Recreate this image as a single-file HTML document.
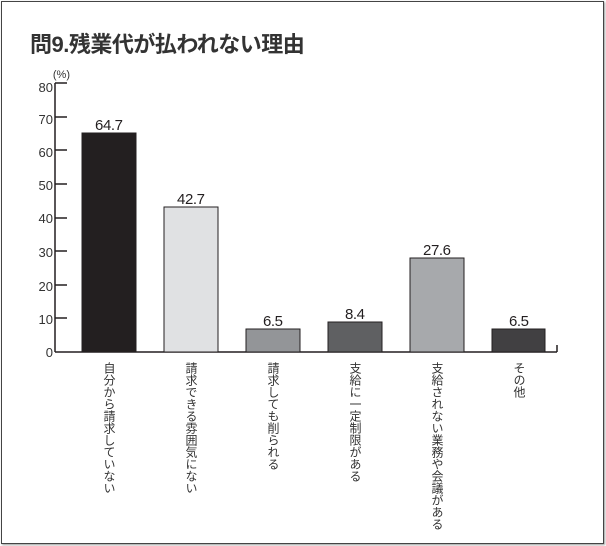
<!DOCTYPE html>
<html><head><meta charset="utf-8"><style>
body{margin:0;width:606px;height:546px;background:#fff;position:relative;overflow:hidden;font-family:"Liberation Sans","Noto Sans CJK JP",sans-serif;color:#231f20}
.frame{position:absolute;left:1px;top:1px;width:601px;height:541px;border:1px solid #444;box-shadow:1px 1px 2px #999}
.t{position:absolute;left:30px;top:27px;font-size:22px;font-weight:bold;letter-spacing:-0.5px;color:#333}
.v{position:absolute;writing-mode:vertical-rl;font-size:12px;line-height:14px;letter-spacing:0;height:180px;white-space:nowrap;color:#333}
</style></head><body>
<div class="frame"></div>
<div class="t">問9.残業代が払われない理由</div>
<svg width="606" height="546" style="position:absolute;left:0;top:0" font-family="Liberation Sans, sans-serif">
<g stroke="#231f20" stroke-width="1.5" fill="none">
<line x1="55" y1="83" x2="55" y2="352"/>
<line x1="55" y1="352" x2="557" y2="352"/>
<line x1="557" y1="345" x2="557" y2="352"/>
<line x1="55" y1="83" x2="67" y2="83"/><line x1="55" y1="117" x2="67" y2="117"/><line x1="55" y1="150" x2="67" y2="150"/><line x1="55" y1="184" x2="67" y2="184"/><line x1="55" y1="218" x2="67" y2="218"/><line x1="55" y1="251" x2="67" y2="251"/><line x1="55" y1="285" x2="67" y2="285"/><line x1="55" y1="318" x2="67" y2="318"/>
</g>
<g font-size="13" fill="#333" text-anchor="end">
<text x="53" y="92">80</text><text x="53" y="124">70</text><text x="53" y="157">60</text><text x="53" y="190">50</text><text x="53" y="223">40</text><text x="53" y="257">30</text><text x="53" y="291">20</text><text x="53" y="324">10</text><text x="53" y="357">0</text>
<text x="70" y="78" font-size="11">(%)</text>
</g>
<g stroke="#231f20" stroke-width="1">
<rect x="82" y="133" width="54" height="219" fill="#231f20"/>
<rect x="164" y="207" width="54" height="145" fill="#e0e1e3"/>
<rect x="246" y="329" width="54" height="23" fill="#939598"/>
<rect x="328" y="322" width="54" height="30" fill="#5f6062"/>
<rect x="410" y="258" width="54" height="94" fill="#a7a9ac"/>
<rect x="492" y="329" width="53" height="23" fill="#414042"/>
</g>
<g font-size="15" fill="#231f20" text-anchor="middle" transform="scale(1,1)">
<text x="109" y="130" textLength="28">64.7</text><text x="191" y="204" textLength="28">42.7</text><text x="273" y="326" textLength="20">6.5</text><text x="355" y="319" textLength="20">8.4</text><text x="437" y="255" textLength="28">27.6</text><text x="519" y="326" textLength="20">6.5</text>
</g>
</svg>
<div class="v" style="left:102px;top:362px">自分から請求していない</div>
<div class="v" style="left:184px;top:362px">請求できる雰囲気にない</div>
<div class="v" style="left:266px;top:362px">請求しても削られる</div>
<div class="v" style="left:348px;top:362px">支給に一定制限がある</div>
<div class="v" style="left:430px;top:362px">支給されない業務や会議がある</div>
<div class="v" style="left:512px;top:362px">その他</div>
</body></html>
